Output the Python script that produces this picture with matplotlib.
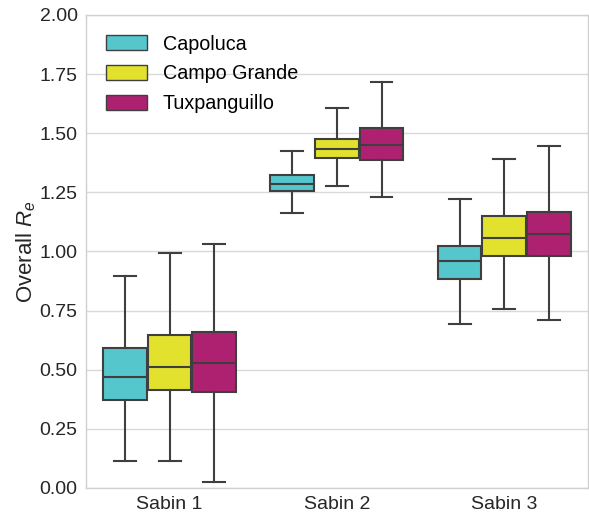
import matplotlib
matplotlib.use("Agg")
import matplotlib.pyplot as plt
from matplotlib.patches import Patch

categories = ["Sabin 1", "Sabin 2", "Sabin 3"]
series = ["Capoluca", "Campo Grande", "Tuxpanguillo"]
colors = ["#55C6CC", "#E2E22E", "#AD2170"]

# five-number summaries per series, per category: [whislo, q1, med, q3, whishi]
capoluca = [[0.115, 0.372, 0.469, 0.592, 0.895],
            [1.162, 1.256, 1.285, 1.322, 1.424],
            [0.693, 0.884, 0.958, 1.022, 1.222]]
campo_grande = [[0.115, 0.414, 0.511, 0.646, 0.992],
                [1.275, 1.393, 1.432, 1.476, 1.605],
                [0.757, 0.981, 1.057, 1.150, 1.391]]
tuxpanguillo = [[0.025, 0.405, 0.527, 0.660, 1.033],
                [1.230, 1.385, 1.452, 1.520, 1.718],
                [0.712, 0.980, 1.072, 1.167, 1.447]]
all_series = [capoluca, campo_grande, tuxpanguillo]

plt.rcParams["font.family"] = ["Liberation Sans", "DejaVu Sans"]
plt.rcParams["mathtext.fontset"] = "custom"
plt.rcParams["mathtext.rm"] = "Liberation Sans"
plt.rcParams["mathtext.it"] = "Liberation Sans:italic"

fig = plt.figure(figsize=(5.89, 5.14), dpi=100)
ax = fig.add_axes([0.146, 0.0506, 0.852, 0.9204])

edge = "#3f3f3f"
n = len(series)
width = 0.8 / n
for s_i, (vals, col) in enumerate(zip(all_series, colors)):
    stats = []
    positions = []
    for c_i, v in enumerate(vals):
        stats.append(dict(whislo=v[0], q1=v[1], med=v[2], q3=v[3], whishi=v[4], fliers=[]))
        positions.append(c_i - 0.4 + width / 2 + s_i * width)
    ax.bxp(stats, positions=positions, widths=width * 0.98, patch_artist=True,
           showfliers=False, manage_ticks=False,
           boxprops=dict(facecolor=col, edgecolor=edge, linewidth=1.5),
           medianprops=dict(color=edge, linewidth=1.5),
           whiskerprops=dict(color=edge, linewidth=1.5),
           capprops=dict(color=edge, linewidth=1.5))

yticks = [0, 0.25, 0.5, 0.75, 1.0, 1.25, 1.5, 1.75, 2.0]
ax.set_xlim(-0.5, len(categories) - 0.5)
ax.set_ylim(0, 2.0)
ax.set_xticks(range(len(categories)))
ax.set_xticklabels(categories)
ax.set_yticks(yticks)
ax.set_yticklabels([f"{t:.2f}" for t in yticks])
ax.tick_params(axis="both", length=0, labelsize=14, colors="#262626", pad=6)
ax.set_ylabel("Overall $R_e$", fontsize=16, color="#262626", labelpad=1)

ax.yaxis.grid(True, color="#d9d9d9", linewidth=1.0)
ax.xaxis.grid(False)
ax.set_axisbelow(True)
for sp in ax.spines.values():
    sp.set_color("#d0d0d0")
    sp.set_linewidth(1.0)

handles = [Patch(facecolor=c, edgecolor=edge, linewidth=1.0, label=s) for s, c in zip(series, colors)]
ax.legend(handles=handles, loc="upper left", frameon=False, fontsize=14.2,
          handlelength=2.1, handleheight=0.8, borderaxespad=0.6, labelspacing=0.55,
          handletextpad=0.8)

fig.savefig("out.png", dpi=100)
